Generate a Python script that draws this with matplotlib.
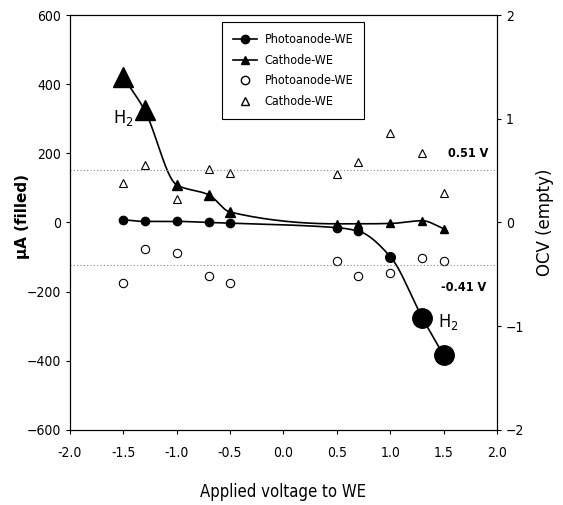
import numpy as np
import matplotlib.pyplot as plt

plt.rcParams['font.family'] = ['DejaVu Sans']
plt.rcParams['font.stretch'] = 'condensed'

voltage = [-1.5, -1.3, -1.0, -0.7, -0.5, 0.5, 0.7, 1.0, 1.3, 1.5]

photo_current = [8, 3, 3, 0, -2, -15, -25, -99, -276, -385]
cath_current = [421, 325, 109, 80, 30, -4, -4, -3, 5, -18]

photo_ocv = [-0.58, -0.26, -0.29, -0.52, -0.58, -0.37, -0.52, -0.49, -0.34, -0.37]
cath_ocv = [0.38, 0.55, 0.23, 0.52, 0.48, 0.47, 0.58, 0.86, 0.67, 0.28]

photo_sizes = [6, 6, 6, 6, 6, 6, 6, 7, 14, 14]
cath_sizes = [14, 14, 7, 7, 7, 6, 6, 6, 6, 6]

ocv_levels = [0.51, -0.41]
ocv_labels = ['0.51 V', '-0.41 V']


def smooth(x, y, n=40):
    # monotone cubic (Fritsch-Carlson) through the points
    x = np.asarray(x, float)
    y = np.asarray(y, float)
    h = np.diff(x)
    d = np.diff(y) / h
    m = np.zeros_like(y)
    m[0], m[-1] = d[0], d[-1]
    for i in range(1, len(x) - 1):
        if d[i - 1] * d[i] > 0:
            w1 = 2 * h[i] + h[i - 1]
            w2 = h[i] + 2 * h[i - 1]
            m[i] = (w1 + w2) / (w1 / d[i - 1] + w2 / d[i])
    xs, ys = [], []
    t = np.linspace(0, 1, n)
    for i in range(len(x) - 1):
        h00 = 2 * t**3 - 3 * t**2 + 1
        h10 = t**3 - 2 * t**2 + t
        h01 = -2 * t**3 + 3 * t**2
        h11 = t**3 - t**2
        xs.append(x[i] + t * h[i])
        ys.append(h00 * y[i] + h10 * h[i] * m[i] + h01 * y[i + 1] + h11 * h[i] * m[i + 1])
    return np.concatenate(xs), np.concatenate(ys)


fig = plt.figure(figsize=(5.63, 5.05), dpi=100)
ax = fig.add_axes([0.124, 0.149, 0.759, 0.821])
ax2 = ax.twinx()

# smoothed lines
sx, sy = smooth(voltage, photo_current)
ax.plot(sx, sy, color='black', lw=1.2)
sx, sy = smooth(voltage, cath_current)
ax.plot(sx, sy, color='black', lw=1.2)

for v, c, s in zip(voltage, photo_current, photo_sizes):
    ax.plot(v, c, 'o', color='black', ms=s)
for v, c, s in zip(voltage, cath_current, cath_sizes):
    ax.plot(v, c, '^', color='black', ms=s)

ax.set_xlim(-2, 2)
ax.set_ylim(-600, 600)
ax.set_xticks(np.arange(-2, 2.01, 0.5))
ax.set_xticklabels([f'{t:.1f}' for t in np.arange(-2, 2.01, 0.5)])
ax.set_yticks(np.arange(-600, 601, 200))
ax.tick_params(direction='out', length=3, labelsize=10)
ax.tick_params(axis='x', pad=9)

# OCV axis
ax2.plot(voltage, photo_ocv, 'o', mfc='white', mec='black', mew=0.8, ms=6, ls='none')
ax2.plot(voltage, cath_ocv, '^', mfc='white', mec='black', mew=0.8, ms=6, ls='none')
ax2.set_ylim(-2, 2)
ax2.set_yticks([-2, -1, 0, 1, 2])
ax2.tick_params(direction='out', length=3, labelsize=10)

for lvl in ocv_levels:
    ax2.axhline(lvl, color='#888888', lw=0.8, ls=(0, (1, 2)))
ax2.text(1.73, 0.67, ocv_labels[0], ha='center', va='center', fontsize=9, fontweight='bold')
ax2.text(1.69, -0.63, ocv_labels[1], ha='center', va='center', fontsize=9, fontweight='bold')

ax.text(-1.5, 302, 'H$_2$', fontsize=13, ha='center', va='center')
ax.text(1.54, -287, 'H$_2$', fontsize=13, ha='center', va='center')

ax.set_xlabel('Applied voltage to WE', fontsize=12, labelpad=16)
ax.set_ylabel('\u00b5A (filled)', fontsize=11, fontweight='bold', fontstretch='normal')
ax.yaxis.set_label_coords(-0.094, 0.515)
ax2.set_ylabel('OCV (empty)', fontsize=12, labelpad=8, fontstretch='normal')

# legend
h1, = ax.plot([], [], '-o', color='black', ms=6, lw=1.2)
h2, = ax.plot([], [], '-^', color='black', ms=6, lw=1.2)
h3, = ax.plot([], [], 'o', mfc='white', mec='black', ms=6, ls='none')
h4, = ax.plot([], [], '^', mfc='white', mec='black', ms=6, ls='none')
leg = ax.legend([h1, h2, h3, h4],
                ['Photoanode-WE', 'Cathode-WE', 'Photoanode-WE', 'Cathode-WE'],
                loc='upper left', bbox_to_anchor=(0.356, 0.983), borderaxespad=0,
                fontsize=9, fancybox=False, edgecolor='black', framealpha=1,
                handlelength=1.9, handletextpad=0.6, borderpad=0.9,
                labelspacing=0.6)
leg.get_frame().set_linewidth(0.8)

fig.savefig('out.png', dpi=100)
